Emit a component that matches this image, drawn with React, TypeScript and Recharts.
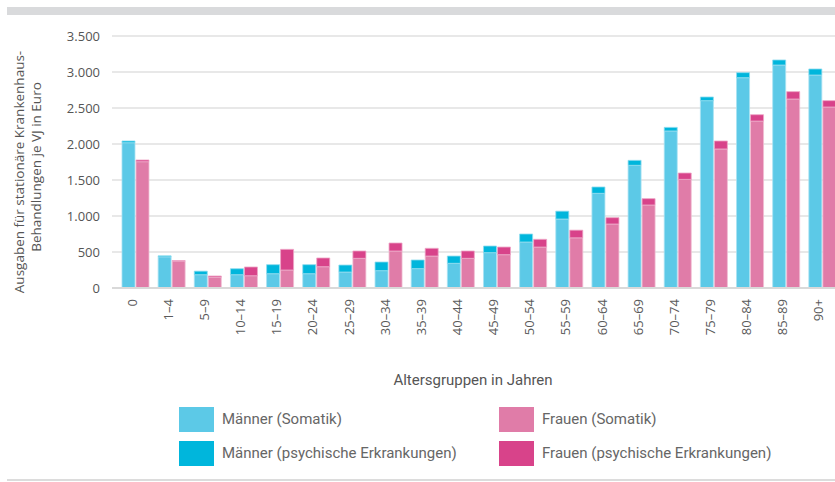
import React from "react";
import { BarChart, Bar, XAxis, YAxis, CartesianGrid } from "recharts";

const categories = ["0", "1–4", "5–9", "10–14", "15–19", "20–24", "25–29", "30–34", "35–39", "40–44", "45–49", "50–54", "55–59", "60–64", "65–69", "70–74", "75–79", "80–84", "85–89", "90+"];
const maennerSomatik = [2018, 433, 185, 185, 199, 199, 222, 241, 269, 343, 491, 639, 958, 1315, 1704, 2181, 2602, 2921, 3097, 2958];
const maennerPsych = [24, 14, 49, 83, 125, 125, 97, 120, 120, 101, 92, 111, 109, 88, 69, 50, 51, 70, 70, 84];
const frauenSomatik = [1754, 375, 151, 171, 250, 296, 412, 514, 444, 412, 463, 569, 697, 889, 1153, 1509, 1931, 2319, 2625, 2514];
const frauenPsych = [24, 5, 16, 121, 287, 121, 102, 111, 107, 102, 106, 107, 106, 88, 88, 88, 111, 88, 102, 88];
const yTicks = [0, 500, 1000, 1500, 2000, 2500, 3000, 3500];
const yTickLabels = ["0", "500", "1.000", "1.500", "2.000", "2.500", "3.000", "3.500"];
const seriesNames = ["Männer (Somatik)", "Männer (psychische Erkrankungen)", "Frauen (Somatik)", "Frauen (psychische Erkrankungen)"];
const xTitle = "Altersgruppen in Jahren";
const yTitleLines = ["Ausgaben für stationäre Krankenhaus-", "Behandlungen je VJ in Euro"];

const COLORS = {
  mS: "#5cc9e7",
  mP: "#00b6dc",
  fS: "#e07ca8",
  fP: "#d8438a",
};

const data = categories.map((c, i) => ({
  cat: c,
  mS: maennerSomatik[i],
  mP: maennerPsych[i],
  fS: frauenSomatik[i],
  fP: frauenPsych[i],
}));

const XTick = (props: any) => {
  const { x, payload } = props;
  const tx = x - 3;
  const y = 299;
  return (
    <text
      x={tx}
      y={y}
      transform={`rotate(-90, ${tx}, ${y})`}
      textAnchor="end"
      dy="0.35em"
      fontFamily="'Open Sans', sans-serif"
      fontSize={13}
      fill="#5a5a5a"
    >
      {payload.value}
    </text>
  );
};

const YTitle = () => (
  <g>
    <text
      x={19}
      y={172}
      transform="rotate(-90, 19, 172)"
      textAnchor="middle"
      dy="0.35em"
      fontFamily="'Open Sans', sans-serif"
      fontSize={13.5}
      fill="#555"
    >
      {yTitleLines[0]}
    </text>
    <text
      x={36}
      y={167}
      transform="rotate(-90, 36, 167)"
      textAnchor="middle"
      dy="0.35em"
      fontFamily="'Open Sans', sans-serif"
      fontSize={13.5}
      fill="#555"
    >
      {yTitleLines[1]}
    </text>
  </g>
);

const legendItems = [
  { name: seriesNames[0], color: COLORS.mS, left: 179, top: 407 },
  { name: seriesNames[1], color: COLORS.mP, left: 179, top: 441 },
  { name: seriesNames[2], color: COLORS.fS, left: 499, top: 407 },
  { name: seriesNames[3], color: COLORS.fP, left: 499, top: 441 },
];

export default function App() {
  return (
    <div
      style={{
        position: "absolute",
        left: 0,
        top: 0,
        width: 835,
        height: 482,
        overflow: "hidden",
        background: "#fff",
      }}
    >
      <div style={{ position: "absolute", left: 7, top: 7, width: 828, height: 8, background: "#d9dadc" }} />
      <div style={{ position: "absolute", left: 7, top: 479, width: 828, height: 2, background: "#dcdcdc" }} />
      <div style={{ position: "absolute", left: 0, top: 0 }}>
        <BarChart
          width={845}
          height={482}
          data={data}
          margin={{ top: 36, right: 5, bottom: 134, left: 0 }}
          barCategoryGap="13.8%"
          barGap={1}
        >
          <CartesianGrid vertical={false} stroke="#e0e0e0" strokeWidth={1.5} />
          <XAxis
            dataKey="cat"
            height={60}
            interval={0}
            tickLine={false}
            axisLine={{ stroke: "#d9d9d9", strokeWidth: 2 }}
            tick={<XTick />}
            padding={{ left: 5, right: 0 }}
          />
          <YAxis
            width={112}
            domain={[0, 3500]}
            ticks={yTicks}
            tickFormatter={(v: number) => yTickLabels[yTicks.indexOf(v)]}
            axisLine={false}
            tickLine={false}
            tickMargin={6}
            tick={{ fontFamily: "'Open Sans', sans-serif", fontSize: 13, fill: "#555" }}
            label={<YTitle />}
          />
          <Bar dataKey="mS" stackId="m" fill={COLORS.mS} stroke="#a8e2f2" strokeWidth={0.8} isAnimationActive={false} />
          <Bar dataKey="mP" stackId="m" fill={COLORS.mP} stroke="#8fdcef" strokeWidth={0.8} isAnimationActive={false} />
          <Bar dataKey="fS" stackId="f" fill={COLORS.fS} stroke="#f0bcd3" strokeWidth={0.8} isAnimationActive={false} />
          <Bar dataKey="fP" stackId="f" fill={COLORS.fP} stroke="#eea6c7" strokeWidth={0.8} isAnimationActive={false} />
        </BarChart>
      </div>
      <div
        style={{
          position: "absolute",
          left: 373,
          width: 200,
          top: 370,
          textAlign: "center",
          fontFamily: "Roboto, sans-serif",
          fontSize: 15,
          color: "#555",
          lineHeight: "20px",
        }}
      >
        {xTitle}
      </div>
      {legendItems.map((it) => (
        <div key={it.name}>
          <div
            style={{
              position: "absolute",
              left: it.left,
              top: it.top,
              width: 35,
              height: 25,
              background: it.color,
            }}
          />
          <div
            style={{
              position: "absolute",
              left: it.left + 43,
              top: it.top + 2,
              height: 20,
              lineHeight: "20px",
              whiteSpace: "nowrap",
              fontFamily: "Roboto, sans-serif",
              fontSize: 15,
              color: "#666",
            }}
          >
            {it.name}
          </div>
        </div>
      ))}
    </div>
  );
}
